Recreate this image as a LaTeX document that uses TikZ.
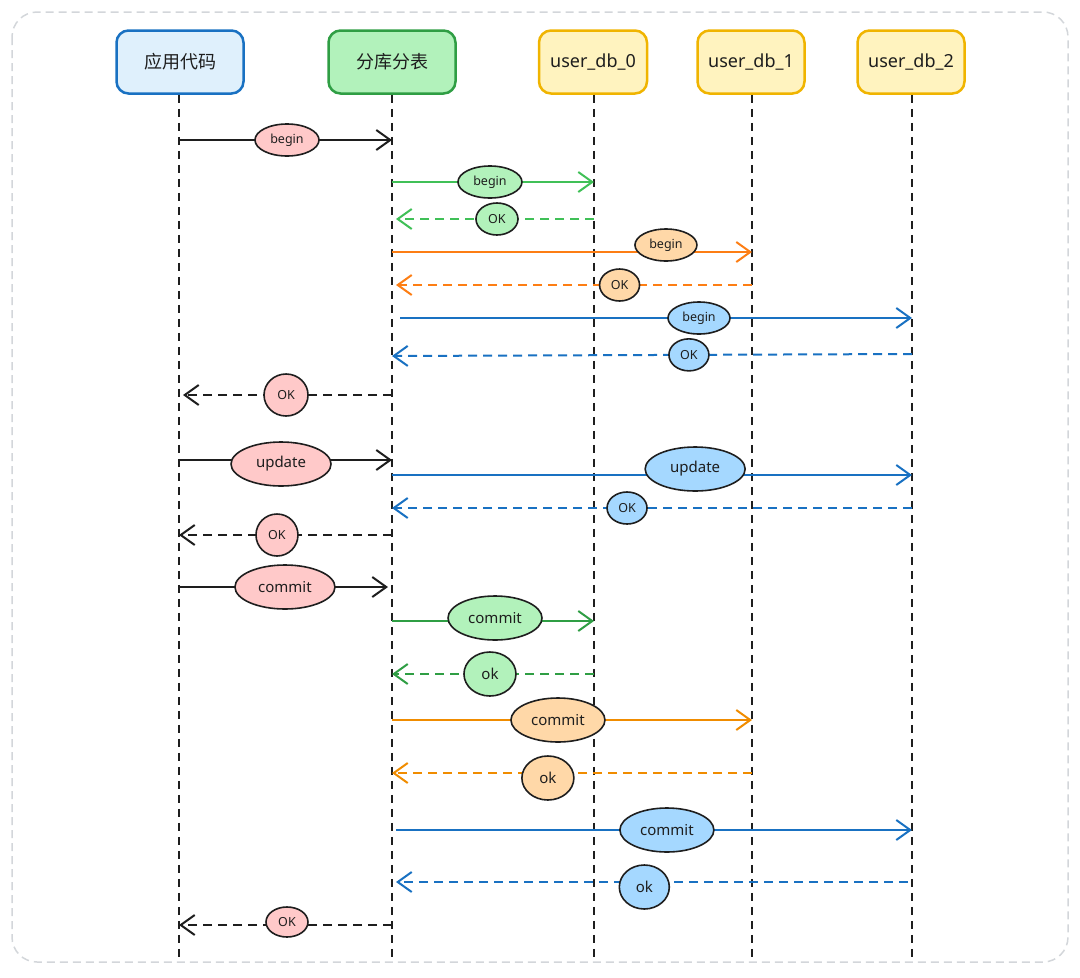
\documentclass[tikz,border=0pt]{standalone}
\usepackage{fontspec}
\setmainfont{Noto Sans}
\newfontfamily\cjk{Noto Sans CJK SC}
\usetikzlibrary{arrows.meta,shapes.geometric}
\definecolor{frameg}{HTML}{D3D6DA}
\definecolor{hblue}{HTML}{1971C2}
\definecolor{hbluef}{HTML}{DFF0FC}
\definecolor{hgreen}{HTML}{2F9E44}
\definecolor{hgreenf}{HTML}{B2F2BB}
\definecolor{hyel}{HTML}{F0B400}
\definecolor{hyelf}{HTML}{FFF3BF}
\definecolor{lgreen}{HTML}{40C057}
\definecolor{dgreen}{HTML}{2F9E44}
\definecolor{lorange}{HTML}{FD7E14}
\definecolor{dorange}{HTML}{F08C00}
\definecolor{lblue}{HTML}{1971C2}
\definecolor{fpink}{HTML}{FFC9C9}
\definecolor{fgreen}{HTML}{B2F2BB}
\definecolor{forange}{HTML}{FFD8A8}
\definecolor{fblue}{HTML}{A5D8FF}
\definecolor{ink}{HTML}{1E1E1E}
\tikzset{
  hdr/.style={draw, line width=2.5pt, rounded corners=12pt, minimum height=63pt, font=\fontsize{18}{20}\selectfont, text=ink},
  life/.style={draw=ink, line width=2.2pt, dash pattern=on 8pt off 6pt},
  msg/.style={line width=2pt, -{Straight Barb[length=14pt,width=20pt,line width=2pt]}},
  ret/.style={msg, dash pattern=on 9pt off 6pt},
  lbs/.style={ellipse, solid, draw=ink, line width=1.6pt, inner sep=0pt, minimum height=32pt, font=\fontsize{12.5}{14}\selectfont, text=ink},
  lbb/.style={ellipse, solid, draw=ink, line width=1.6pt, inner sep=0pt, minimum height=44pt, font=\fontsize{15}{17}\selectfont, text=ink},
}
\begin{document}
\begin{tikzpicture}[x=1pt,y=-1pt]
\useasboundingbox (0,0) rectangle (1080,978);
\draw[frameg, line width=1.5pt, dash pattern=on 8pt off 5pt, rounded corners=25pt] (12,12) rectangle (1068,962);

% headers
\node[hdr, draw=hblue, fill=hbluef, minimum width=127pt] (app) at (180,62) {\cjk 应用代码};
\node[hdr, draw=hgreen, fill=hgreenf, minimum width=127pt] (shard) at (392,62) {\cjk 分库分表};
\node[hdr, draw=hyel, fill=hyelf, minimum width=108pt] (db0) at (593,62) {user\_db\_0};
\node[hdr, draw=hyel, fill=hyelf, minimum width=107pt] (db1) at (751,62) {user\_db\_1};
\node[hdr, draw=hyel, fill=hyelf, minimum width=107pt] (db2) at (911,62) {user\_db\_2};

% lifeline ends
\coordinate (appE) at (179,960);
\coordinate (shardE) at (392,960);
\coordinate (db0E) at (594,960);
\coordinate (db1E) at (752,960);
\coordinate (db2E) at (912,960);
\draw[life] (app.south -| appE) -- (appE);
\draw[life] (shard.south -| shardE) -- (shardE);
\draw[life] (db0.south -| db0E) -- (db0E);
\draw[life] (db1.south -| db1E) -- (db1E);
\draw[life] (db2.south -| db2E) -- (db2E);

% message points
\foreach \n/\y in {1/140,2/182,3/219,4/252,5/285,6/318,7/356,8/395,9/460,10/475,11/508,12/535,13/587,14/621,15/674,16/720,17/773,18/830,19/882,20/925}{
  \coordinate (A\n) at (179,\y);
  \coordinate (S\n) at (392,\y);
  \coordinate (D0\n) at (594,\y);
  \coordinate (D1\n) at (752,\y);
  \coordinate (D2\n) at (912,\y);
}

\draw[msg, ink] (A1) -- node[lbs, fill=fpink, minimum width=64pt, pos=0.507] (m1) {begin} (S1);
\draw[msg, lgreen] (S2) -- node[lbs, fill=fgreen, minimum width=64pt, pos=0.485] (m2) {begin} (D02);
\draw[ret, lgreen] (D03) -- node[lbs, fill=fgreen, minimum width=42pt, pos=0.49] (m3) {OK} ([xshift=4pt]S3);
\draw[msg, lorange] (S4) -- node[lbs, fill=forange, minimum width=62pt, pos=0.761, yshift=7pt] (m4) {begin} (D14);
\draw[ret, lorange] (D15) -- node[lbs, fill=forange, minimum width=40pt, pos=0.372] (m5) {OK} ([xshift=4pt]S5);
\draw[msg, lblue] ([xshift=8pt]S6) -- node[lbs, fill=fblue, minimum width=62pt, pos=0.584] (m6) {begin} (D26);
\draw[ret, lblue] ([yshift=2pt]D27) -- node[lbs, fill=fblue, minimum width=40pt, pos=0.429] (m7) {OK} (S7);
\draw[ret, ink] (S8) -- node[lbs, fill=fpink, minimum width=44pt, minimum height=42pt, pos=0.507] (m8) {OK} ([xshift=4pt]A8);
\draw[msg, ink] (A9) -- node[lbb, fill=fpink, minimum width=100pt, pos=0.479, yshift=-4pt] (m9) {update} (S9);
\draw[msg, lblue] (S10) -- node[lbb, fill=fblue, minimum width=100pt, pos=0.583, yshift=6pt] (m10) {update} (D210);
\draw[ret, lblue] (D211) -- node[lbs, fill=fblue, minimum width=40pt, pos=0.548] (m11) {OK} (S11);
\draw[ret, ink] (S12) -- node[lbs, fill=fpink, minimum width=42pt, minimum height=42pt, pos=0.54] (m12) {OK} (A12);
\draw[msg, ink] (A13) -- node[lbb, fill=fpink, minimum width=100pt, pos=0.507] (m13) {commit} ([xshift=-4pt]S13);
\draw[msg, dgreen] (S14) -- node[lbb, fill=fgreen, minimum width=94pt, pos=0.51, yshift=3pt] (m14) {commit} (D014);
\draw[ret, dgreen] (D015) -- node[lbb, fill=fgreen, minimum width=52pt, pos=0.515] (m15) {ok} (S15);
\draw[msg, dorange] (S16) -- node[lbb, fill=forange, minimum width=94pt, pos=0.461] (m16) {commit} (D116);
\draw[ret, dorange] (D117) -- node[lbb, fill=forange, minimum width=52pt, pos=0.567, yshift=-5pt] (m17) {ok} (S17);
\draw[msg, lblue] ([xshift=4pt]S18) -- node[lbb, fill=fblue, minimum width=94pt, pos=0.525] (m18) {commit} (D218);
\draw[ret, lblue] ([xshift=-4pt]D219) -- node[lbb, fill=fblue, minimum width=50pt, pos=0.515, yshift=-5pt] (m19) {ok} ([xshift=4pt]S19);
\draw[ret, ink] (S20) -- node[lbs, fill=fpink, minimum width=42pt, minimum height=30pt, pos=0.493, yshift=3pt] (m20) {OK} (A20);
\end{tikzpicture}
\end{document}
